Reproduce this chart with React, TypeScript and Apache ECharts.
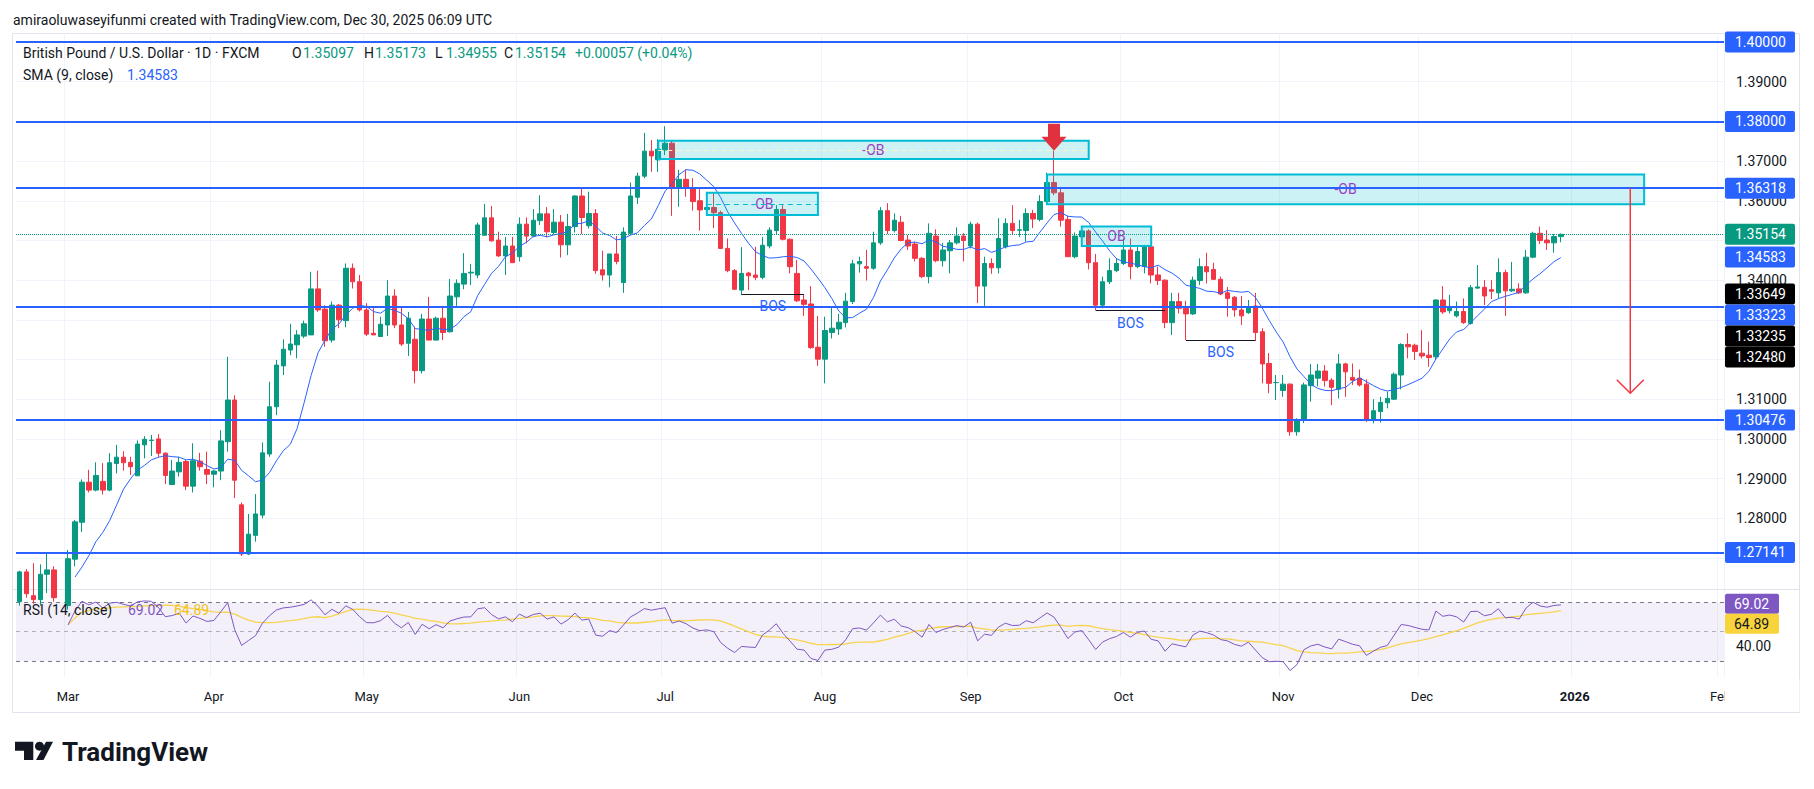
import React, { useEffect, useRef } from "react";
import * as echarts from "echarts";

const FONT = 'Roboto, "Liberation Sans", Arial, sans-serif';

// Daily bars, each row: [open, high, low, close]
const febBars = [
  [1.2590, 1.2668, 1.2580, 1.2665], [1.2665, 1.2672, 1.2600, 1.2610], [1.2605, 1.2687, 1.2585, 1.2595],
  [1.2595, 1.2684, 1.2580, 1.2659], [1.2659, 1.2712, 1.2612, 1.2670], [1.2670, 1.2679, 1.2590, 1.2600],
  [1.2600, 1.2615, 1.2560, 1.2580],
];
const marBars = [
  [1.2580, 1.2720, 1.2570, 1.2698], [1.2697, 1.2796, 1.2679, 1.2791], [1.2790, 1.2898, 1.2766, 1.2891],
  [1.2891, 1.2922, 1.2865, 1.2871], [1.2871, 1.2941, 1.2868, 1.2908], [1.2893, 1.2939, 1.2860, 1.2871],
  [1.2871, 1.2964, 1.2868, 1.2940], [1.2938, 1.2985, 1.2913, 1.2954], [1.2954, 1.2969, 1.2920, 1.2940],
  [1.2941, 1.2955, 1.2909, 1.2930], [1.2907, 1.2996, 1.2907, 1.2987], [1.2985, 1.3007, 1.2951, 1.2999],
  [1.2996, 1.3010, 1.2957, 1.2997], [1.3000, 1.3012, 1.2954, 1.2964], [1.2964, 1.2966, 1.2886, 1.2908],
  [1.2885, 1.2947, 1.2885, 1.2919], [1.2917, 1.2955, 1.2905, 1.2941], [1.2943, 1.2947, 1.2871, 1.2881],
  [1.2881, 1.2989, 1.2865, 1.2945], [1.2944, 1.2965, 1.2920, 1.2930], [1.2923, 1.2968, 1.2886, 1.2911],
];
const aprBars = [
  [1.2911, 1.2922, 1.2878, 1.2919], [1.2919, 1.3022, 1.2896, 1.2995], [1.2993, 1.3207, 1.2968, 1.3098],
  [1.3098, 1.3110, 1.2851, 1.2896], [1.2834, 1.2840, 1.2705, 1.2710], [1.2710, 1.2811, 1.2707, 1.2760],
  [1.2757, 1.2861, 1.2741, 1.2811], [1.2808, 1.2991, 1.2800, 1.2965], [1.2962, 1.3144, 1.2955, 1.3081],
  [1.3081, 1.3199, 1.3060, 1.3186], [1.3184, 1.3251, 1.3161, 1.3226], [1.3224, 1.3290, 1.3211, 1.3239],
  [1.3237, 1.3274, 1.3203, 1.3262], [1.3259, 1.3298, 1.3254, 1.3290], [1.3262, 1.3421, 1.3262, 1.3378],
  [1.3378, 1.3424, 1.3320, 1.3325], [1.3327, 1.3337, 1.3232, 1.3247], [1.3249, 1.3346, 1.3243, 1.3337],
  [1.3337, 1.3340, 1.3279, 1.3300], [1.3298, 1.3442, 1.3281, 1.3430], [1.3430, 1.3442, 1.3379, 1.3396],
  [1.3396, 1.3413, 1.3321, 1.3325],
];
const mayBars = [
  [1.3325, 1.3342, 1.3259, 1.3264], [1.3266, 1.3333, 1.3262, 1.3262], [1.3258, 1.3308, 1.3258, 1.3289],
  [1.3287, 1.3400, 1.3259, 1.3360], [1.3360, 1.3377, 1.3279, 1.3287], [1.3287, 1.3333, 1.3234, 1.3239],
  [1.3241, 1.3320, 1.3209, 1.3304], [1.3251, 1.3283, 1.3140, 1.3172], [1.3172, 1.3315, 1.3165, 1.3302],
  [1.3302, 1.3358, 1.3249, 1.3249], [1.3249, 1.3308, 1.3248, 1.3304], [1.3304, 1.3332, 1.3249, 1.3268],
  [1.3270, 1.3403, 1.3268, 1.3360], [1.3358, 1.3402, 1.3335, 1.3392], [1.3390, 1.3468, 1.3377, 1.3417],
  [1.3418, 1.3441, 1.3388, 1.3420], [1.3413, 1.3545, 1.3405, 1.3539], [1.3513, 1.3592, 1.3513, 1.3557],
  [1.3557, 1.3587, 1.3497, 1.3499], [1.3501, 1.3522, 1.3459, 1.3461], [1.3461, 1.3509, 1.3413, 1.3486],
  [1.3486, 1.3509, 1.3444, 1.3444],
];
const junBars = [
  [1.3459, 1.3558, 1.3447, 1.3541], [1.3541, 1.3558, 1.3493, 1.3511], [1.3511, 1.3579, 1.3508, 1.3551],
  [1.3550, 1.3614, 1.3539, 1.3567], [1.3567, 1.3584, 1.3508, 1.3522], [1.3520, 1.3579, 1.3515, 1.3546],
  [1.3546, 1.3564, 1.3457, 1.3489], [1.3489, 1.3567, 1.3463, 1.3535], [1.3535, 1.3614, 1.3520, 1.3612],
  [1.3612, 1.3630, 1.3516, 1.3558], [1.3537, 1.3623, 1.3530, 1.3568], [1.3568, 1.3579, 1.3416, 1.3424],
  [1.3426, 1.3474, 1.3399, 1.3413], [1.3413, 1.3466, 1.3382, 1.3466], [1.3466, 1.3511, 1.3440, 1.3447],
  [1.3394, 1.3533, 1.3368, 1.3521], [1.3518, 1.3646, 1.3515, 1.3612], [1.3609, 1.3671, 1.3592, 1.3662],
  [1.3662, 1.3771, 1.3657, 1.3725], [1.3725, 1.3753, 1.3673, 1.3713], [1.3703, 1.3755, 1.3673, 1.3730],
];
const julBars = [
  [1.3728, 1.3788, 1.3715, 1.3745], [1.3745, 1.3753, 1.3562, 1.3631], [1.3631, 1.3678, 1.3585, 1.3654],
  [1.3654, 1.3679, 1.3610, 1.3633], [1.3633, 1.3657, 1.3575, 1.3598], [1.3600, 1.3631, 1.3525, 1.3577],
  [1.3578, 1.3592, 1.3572, 1.3583], [1.3583, 1.3619, 1.3531, 1.3570], [1.3570, 1.3575, 1.3478, 1.3480],
  [1.3480, 1.3505, 1.3420, 1.3424], [1.3424, 1.3428, 1.3375, 1.3377], [1.3375, 1.3483, 1.3363, 1.3417],
  [1.3418, 1.3421, 1.3375, 1.3411], [1.3413, 1.3484, 1.3400, 1.3407], [1.3407, 1.3509, 1.3402, 1.3488],
  [1.3486, 1.3533, 1.3480, 1.3526], [1.3525, 1.3589, 1.3514, 1.3578], [1.3578, 1.3589, 1.3500, 1.3503],
  [1.3503, 1.3505, 1.3417, 1.3434], [1.3417, 1.3451, 1.3345, 1.3348], [1.3350, 1.3365, 1.3310, 1.3339],
  [1.3340, 1.3385, 1.3227, 1.3230], [1.3231, 1.3310, 1.3184, 1.3201],
];
const augBars = [
  [1.3201, 1.3308, 1.3140, 1.3273], [1.3268, 1.3332, 1.3253, 1.3279], [1.3277, 1.3315, 1.3262, 1.3294],
  [1.3293, 1.3368, 1.3281, 1.3347], [1.3346, 1.3451, 1.3340, 1.3441], [1.3441, 1.3459, 1.3419, 1.3447],
  [1.3434, 1.3476, 1.3399, 1.3430], [1.3430, 1.3522, 1.3426, 1.3494], [1.3494, 1.3584, 1.3489, 1.3575],
  [1.3575, 1.3594, 1.3516, 1.3525], [1.3525, 1.3568, 1.3520, 1.3551], [1.3546, 1.3562, 1.3498, 1.3500],
  [1.3501, 1.3514, 1.3476, 1.3486], [1.3491, 1.3497, 1.3447, 1.3455], [1.3455, 1.3458, 1.3405, 1.3409],
  [1.3409, 1.3543, 1.3392, 1.3518], [1.3511, 1.3528, 1.3445, 1.3449], [1.3449, 1.3494, 1.3434, 1.3476],
  [1.3474, 1.3501, 1.3417, 1.3494], [1.3494, 1.3533, 1.3490, 1.3511], [1.3511, 1.3518, 1.3447, 1.3500],
];
const sepBars = [
  [1.3486, 1.3547, 1.3480, 1.3541], [1.3541, 1.3545, 1.3342, 1.3385], [1.3385, 1.3459, 1.3335, 1.3442],
  [1.3442, 1.3455, 1.3416, 1.3431], [1.3431, 1.3556, 1.3417, 1.3505], [1.3484, 1.3556, 1.3480, 1.3543],
  [1.3543, 1.3589, 1.3516, 1.3525], [1.3526, 1.3552, 1.3509, 1.3527], [1.3525, 1.3581, 1.3497, 1.3568],
  [1.3568, 1.3577, 1.3531, 1.3554], [1.3553, 1.3614, 1.3548, 1.3598], [1.3598, 1.3671, 1.3595, 1.3646],
  [1.3646, 1.3726, 1.3614, 1.3620], [1.3620, 1.3635, 1.3535, 1.3551], [1.3553, 1.3562, 1.3459, 1.3459],
  [1.3459, 1.3520, 1.3455, 1.3511], [1.3509, 1.3535, 1.3486, 1.3524], [1.3524, 1.3528, 1.3427, 1.3444],
  [1.3444, 1.3466, 1.3325, 1.3337], [1.3337, 1.3409, 1.3329, 1.3396], [1.3396, 1.3455, 1.3390, 1.3424],
  [1.3424, 1.3455, 1.3420, 1.3442],
];
const octBars = [
  [1.3442, 1.3505, 1.3438, 1.3476], [1.3476, 1.3505, 1.3402, 1.3434], [1.3434, 1.3484, 1.3430, 1.3472],
  [1.3434, 1.3489, 1.3417, 1.3484], [1.3484, 1.3486, 1.3392, 1.3413], [1.3413, 1.3434, 1.3388, 1.3399],
  [1.3400, 1.3402, 1.3279, 1.3293], [1.3293, 1.3368, 1.3262, 1.3346], [1.3346, 1.3368, 1.3316, 1.3329],
  [1.3329, 1.3348, 1.3249, 1.3315], [1.3315, 1.3409, 1.3312, 1.3400], [1.3399, 1.3455, 1.3388, 1.3434],
  [1.3434, 1.3469, 1.3392, 1.3421], [1.3427, 1.3444, 1.3400, 1.3402], [1.3402, 1.3409, 1.3362, 1.3365],
  [1.3368, 1.3383, 1.3308, 1.3354], [1.3357, 1.3360, 1.3308, 1.3325], [1.3325, 1.3360, 1.3287, 1.3310],
  [1.3318, 1.3350, 1.3315, 1.3333], [1.3335, 1.3368, 1.3247, 1.3268], [1.3270, 1.3279, 1.3140, 1.3189],
  [1.3190, 1.3216, 1.3115, 1.3140], [1.3142, 1.3161, 1.3098, 1.3142],
];
const novBars = [
  [1.3122, 1.3161, 1.3106, 1.3138], [1.3138, 1.3140, 1.3008, 1.3018], [1.3018, 1.3052, 1.3008, 1.3049],
  [1.3048, 1.3142, 1.3040, 1.3136], [1.3134, 1.3189, 1.3094, 1.3161], [1.3153, 1.3189, 1.3132, 1.3171],
  [1.3171, 1.3186, 1.3132, 1.3147], [1.3148, 1.3153, 1.3085, 1.3130], [1.3125, 1.3214, 1.3102, 1.3189],
  [1.3189, 1.3192, 1.3106, 1.3169], [1.3155, 1.3190, 1.3136, 1.3148], [1.3153, 1.3175, 1.3132, 1.3136],
  [1.3138, 1.3150, 1.3043, 1.3048], [1.3048, 1.3100, 1.3039, 1.3071], [1.3069, 1.3106, 1.3041, 1.3092],
  [1.3091, 1.3119, 1.3077, 1.3102], [1.3100, 1.3167, 1.3098, 1.3163], [1.3161, 1.3241, 1.3125, 1.3238],
  [1.3238, 1.3266, 1.3203, 1.3232], [1.3236, 1.3240, 1.3199, 1.3220],
];
const decBars = [
  [1.3216, 1.3274, 1.3203, 1.3209], [1.3211, 1.3245, 1.3182, 1.3205], [1.3207, 1.3352, 1.3199, 1.3350],
  [1.3350, 1.3385, 1.3315, 1.3320], [1.3323, 1.3363, 1.3316, 1.3331], [1.3310, 1.3346, 1.3306, 1.3321],
  [1.3321, 1.3354, 1.3290, 1.3293], [1.3291, 1.3388, 1.3288, 1.3381], [1.3380, 1.3438, 1.3378, 1.3383],
  [1.3382, 1.3400, 1.3337, 1.3360], [1.3376, 1.3400, 1.3352, 1.3372], [1.3368, 1.3455, 1.3354, 1.3419],
  [1.3419, 1.3426, 1.3310, 1.3373], [1.3373, 1.3446, 1.3370, 1.3377], [1.3378, 1.3392, 1.3365, 1.3368],
  [1.3368, 1.3476, 1.3365, 1.3458], [1.3458, 1.3522, 1.3455, 1.3518], [1.3518, 1.3535, 1.3491, 1.3500],
  [1.3501, 1.3526, 1.3476, 1.3494], [1.3494, 1.3516, 1.3469, 1.35097], [1.35097, 1.35173, 1.34955, 1.35154],
];

const priceTicks = [1.27, 1.28, 1.29, 1.30, 1.31, 1.32, 1.33, 1.34, 1.35, 1.36, 1.37, 1.38, 1.39, 1.40];
const levelLines = [1.40, 1.38, 1.36318, 1.33323, 1.30476, 1.27141];
const lastPrice = 1.35154;
const smaLast = 1.34583;
const rsiLast = 69.02;
const rsiMaLast = 64.89;
const lastOHLC = ["1.35097", "1.35173", "1.34955", "1.35154"];
const lastChange = "+0.00057 (+0.04%)";

// Order blocks: start date, end date, top, bottom, label
const orderBlocks = [
  { from: "2025-06-30", to: "2025-09-24", top: 1.3751, bottom: 1.3705, text: "-OB", mid: "#fff1c2" },
  { from: "2025-07-09", to: "2025-07-31", top: 1.3620, bottom: 1.3564, text: "-OB", mid: "#00bcd4" },
  { from: "2025-09-16", to: "2026-01-16", top: 1.3666, bottom: 1.3591, text: "-OB", mid: "" },
  { from: "2025-09-23", to: "2025-10-07", top: 1.3535, bottom: 1.3486, text: "OB", mid: "" },
];
// Break of structure segments
const bosLines = [
  { from: "2025-07-16", to: "2025-07-29", price: 1.33649 },
  { from: "2025-09-25", to: "2025-10-09", price: 1.33235 },
  { from: "2025-10-14", to: "2025-10-28", price: 1.3248 },
];
const arrowMarker = { date: "2025-09-17", price: 1.3726 };
const projection = { date: "2026-01-14", from: 1.36318, to: 1.3115 };

const monthNames = ["Jan", "Feb", "Mar", "Apr", "May", "Jun", "Jul", "Aug", "Sep", "Oct", "Nov", "Dec"];

function buildDates(): string[] {
  const out: string[] = [];
  const d = new Date(Date.UTC(2025, 1, 20));
  const end = Date.UTC(2026, 1, 2);
  const skip = new Set(["2025-12-25", "2026-01-01"]);
  while (d.getTime() <= end) {
    const wd = d.getUTCDay();
    const s = d.toISOString().slice(0, 10);
    if (wd !== 0 && wd !== 6 && !skip.has(s)) out.push(s);
    d.setUTCDate(d.getUTCDate() + 1);
  }
  return out;
}

export default function App() {
  const ref = useRef<HTMLDivElement>(null);

  useEffect(() => {
    if (!ref.current) return;
    const chart = echarts.init(ref.current, undefined, { renderer: "svg" });

    const dates = buildDates();
    const bars = [...febBars, ...marBars, ...aprBars, ...mayBars, ...junBars, ...julBars, ...augBars, ...sepBars, ...octBars, ...novBars, ...decBars];
    const candles = bars.map(([o, h, l, c]) => [o, c, l, h]);
    const closes = bars.map((b) => b[3]);

    const sma = closes.map((_, i) => {
      if (i < 8) return null;
      let s = 0;
      for (let k = i - 8; k <= i; k++) s += closes[k];
      return +(s / 9).toFixed(5);
    });

    // RSI(14), Wilder smoothing; shown once enough changes are available
    const rsiFull: (number | null)[] = [null];
    let ag = 0, al = 0;
    for (let i = 1; i < closes.length; i++) {
      const ch = closes[i] - closes[i - 1];
      const g = Math.max(ch, 0), l = Math.max(-ch, 0);
      if (i <= 14) { ag = (ag * (i - 1) + g) / i; al = (al * (i - 1) + l) / i; }
      else { ag = (ag * 13 + g) / 14; al = (al * 13 + l) / 14; }
      rsiFull.push(al === 0 ? 100 : +(100 - 100 / (1 + ag / al)).toFixed(2));
    }
    const rsi = rsiFull.map((v, i) => (i < 7 ? null : v));
    const rsiMa = rsi.map((_, i) => {
      const vals: number[] = [];
      for (let k = Math.max(0, i - 13); k <= i; k++) if (rsi[k] != null) vals.push(rsi[k] as number);
      return vals.length ? +(vals.reduce((a, b) => a + b, 0) / vals.length).toFixed(2) : null;
    });

    const monthStart = new Set<number>();
    dates.forEach((d, i) => { if (i > 0 && d.slice(5, 7) !== dates[i - 1].slice(5, 7)) monthStart.add(i); });
    const isMonth = (i: number) => monthStart.has(i);
    const idx = (d: string) => dates.indexOf(d);

    const xBase = {
      type: "category" as const,
      data: dates,
      boundaryGap: true,
      axisLine: { show: false },
      axisTick: { show: false },
      splitLine: { show: true, interval: (i: number) => isMonth(i), lineStyle: { color: "#f0f3fa", width: 1 } },
    };

    const option: any = {
      animation: false,
      backgroundColor: "#ffffff",
      textStyle: { fontFamily: FONT },
      grid: [
        { left: 16, top: 33, width: 1708, height: 556 },
        { left: 16, top: 589, width: 1708, height: 88 },
      ],
      xAxis: [
        { ...xBase, gridIndex: 0, axisLabel: { show: false } },
        {
          ...xBase, gridIndex: 1,
          axisLabel: {
            show: true, interval: (i: number) => isMonth(i), margin: 13, color: "#131722", fontSize: 13, fontFamily: FONT,
            formatter: (v: string) => {
              const m = +v.slice(5, 7);
              return m === 1 ? "{b|" + v.slice(0, 4) + "}" : monthNames[m - 1];
            },
            rich: { b: { fontWeight: "bold", fontSize: 13, color: "#131722", fontFamily: FONT } },
          },
        },
      ],
      yAxis: [
        { type: "value", gridIndex: 0, min: 1.262186, max: 1.402267, axisLine: { show: false }, axisTick: { show: false }, axisLabel: { show: false }, splitLine: { show: false } },
        { type: "value", gridIndex: 1, min: 19.3, max: 79.0, axisLine: { show: false }, axisTick: { show: false }, axisLabel: { show: false }, splitLine: { show: false } },
      ],
      series: [
        {
          type: "line", xAxisIndex: 0, yAxisIndex: 0, data: [], silent: true,
          markLine: { z: 0, precision: 6, silent: true, symbol: ["none", "none"], label: { show: false }, lineStyle: { color: "#f0f3fa", width: 1, type: "solid" }, data: priceTicks.map((v) => ({ yAxis: v })) },
        },
        {
          type: "line", xAxisIndex: 1, yAxisIndex: 1, data: [], silent: true,
          markLine: { z: 0, precision: 6, silent: true, symbol: ["none", "none"], label: { show: false }, lineStyle: { color: "#f0f3fa", width: 1, type: "solid" }, data: [{ yAxis: 40 }] },
        },
        {
          name: "GBPUSD", type: "candlestick", xAxisIndex: 0, yAxisIndex: 0, data: candles, barWidth: 5, clip: true,
          itemStyle: { color: "#089981", color0: "#f23645", borderColor: "#089981", borderColor0: "#f23645", borderWidth: 1 },
          markArea: {
            z: 4, silent: true, precision: 6,
            data: orderBlocks.map((b) => [
              {
                coord: [idx(b.from), b.top],
                itemStyle: { color: "rgba(0,188,212,0.2)", borderColor: "#00bcd4", borderWidth: 2 },
                label: { show: true, position: "inside", formatter: b.text, color: "#9c3fc0", fontSize: 14, fontFamily: FONT },
              },
              { coord: [idx(b.to), b.bottom] },
            ]),
          },
          markLine: {
            z: 5, silent: true, precision: 6, symbol: ["none", "none"], label: { show: false },
            data: [
              ...levelLines.map((v) => ({ yAxis: v, lineStyle: { color: "#2962ff", width: 2, type: "solid" } })),
              { yAxis: lastPrice, lineStyle: { color: "#089981", width: 1, type: "dotted" } },
              ...orderBlocks.filter((b) => b.mid).map((b) => [
                { coord: [idx(b.from), (b.top + b.bottom) / 2], lineStyle: { color: b.mid, width: 1, type: [5, 4] } },
                { coord: [idx(b.to), (b.top + b.bottom) / 2] },
              ]),
              ...bosLines.map((b) => [
                {
                  coord: [idx(b.from), b.price], lineStyle: { color: "#131722", width: 1, type: "solid" },
                  label: { show: true, formatter: "BOS", position: "insideMiddleBottom", distance: 5, color: "#2962ff", fontSize: 14, fontFamily: FONT },
                },
                { coord: [idx(b.to), b.price] },
              ]),
            ],
          },
          markPoint: {
            z: 6, silent: true,
            data: [{
              coord: [idx(arrowMarker.date), arrowMarker.price],
              symbol: "path://M6.5,0L18.5,0L18.5,13L25,13L12.5,27L0,13L6.5,13Z",
              symbolSize: [25, 27], symbolOffset: [0, "-50%"],
              itemStyle: { color: "#e0313f" }, label: { show: false },
            }],
          },
        },
        {
          name: "SMA", type: "line", xAxisIndex: 0, yAxisIndex: 0, data: sma, showSymbol: false, silent: true, z: 3,
          lineStyle: { color: "#2962ff", width: 1 }, itemStyle: { color: "#2962ff" },
        },
        {
          name: "RSI", type: "line", xAxisIndex: 1, yAxisIndex: 1, data: rsi, showSymbol: false, silent: true, z: 3,
          lineStyle: { color: "#7e57c2", width: 1 }, itemStyle: { color: "#7e57c2" },
          markArea: { z: 0, silent: true, itemStyle: { color: "rgba(126,87,194,0.09)" }, data: [[{ yAxis: 70 }, { yAxis: 30 }]] },
          markLine: {
            z: 1, silent: true, precision: 6, symbol: ["none", "none"], label: { show: false },
            lineStyle: { color: "#787b86", width: 1, type: [4, 4] },
            data: [{ yAxis: 70 }, { yAxis: 50, lineStyle: { color: "rgba(120,123,134,0.55)", width: 1, type: [4, 4] } }, { yAxis: 30 }],
          },
        },
        {
          name: "RSI MA", type: "line", xAxisIndex: 1, yAxisIndex: 1, data: rsiMa, showSymbol: false, silent: true, z: 2,
          lineStyle: { color: "#f7d44f", width: 1.3 }, itemStyle: { color: "#f7d44f" },
        },
      ],
    };

    chart.setOption(option);

    const yMain = (v: number) => chart.convertToPixel({ yAxisIndex: 0 } as any, v) as unknown as number;
    const yRsi = (v: number) => chart.convertToPixel({ yAxisIndex: 1 } as any, v) as unknown as number;
    const pt = (d: string, v: number) => chart.convertToPixel({ gridIndex: 0 } as any, [idx(d), v]) as unknown as number[];

    const g: any[] = [];
    const txt = (x: number, y: number, text: string, fill: string, size = 14, extra: any = {}) => ({
      type: "text", silent: true, z: extra.z ?? 30,
      style: { x, y, text, fill, fontSize: size, fontFamily: FONT, align: extra.align ?? "left", verticalAlign: "middle", fontWeight: extra.fontWeight ?? "normal" },
    });

    // frame & separators
    g.push({ type: "rect", silent: true, z: -1, shape: { x: 12.5, y: 33.5, width: 1787, height: 679 }, style: { fill: "none", stroke: "#e0e3eb", lineWidth: 1 } });
    g.push({ type: "line", silent: true, z: 1, shape: { x1: 12.5, y1: 589.5, x2: 1800, y2: 589.5 }, style: { stroke: "#e0e3eb", lineWidth: 1 } });
    // clip the future month label at the price scale
    g.push({ type: "rect", silent: true, z: 50, shape: { x: 1724.5, y: 679, width: 75, height: 33 }, style: { fill: "#ffffff" } });

    // header texts
    g.push(txt(13, 20, "amiraoluwaseyifunmi created with TradingView.com, Dec 30, 2025 06:09 UTC", "#131722", 14));
    g.push(txt(23, 53, "British Pound / U.S. Dollar · 1D · FXCM", "#131722", 14));
    const ohlcX = [292, 364, 435, 504];
    ["O", "H", "L", "C"].forEach((k, i) => {
      g.push(txt(ohlcX[i], 53, k, "#131722", 14));
      g.push(txt(ohlcX[i] + 11, 53, lastOHLC[i], "#089981", 14));
    });
    g.push(txt(575, 53, lastChange, "#089981", 14));
    g.push(txt(23, 75, "SMA (9, close)", "#131722", 14));
    g.push(txt(127, 75, smaLast.toFixed(5), "#2962ff", 14));
    g.push(txt(23, 610, "RSI (14, close)", "#131722", 14));
    g.push(txt(128, 610, rsiLast.toFixed(2), "#7e57c2", 14));
    g.push(txt(174, 610, rsiMaLast.toFixed(2), "#f2c21b", 14));

    // price scale labels with stacking
    const stack = (items: any[], h: number) => {
      const s = [...items].sort((a, b) => a.y - b.y);
      let prev = -Infinity;
      s.forEach((it) => { it.y = Math.max(it.y, prev + h); prev = it.y; });
      return s;
    };
    const mainLabels = stack([
      ...levelLines.map((v) => ({ v, bg: "#2962ff", fg: "#ffffff" })),
      { v: lastPrice, bg: "#089981", fg: "#ffffff" },
      { v: smaLast, bg: "#2962ff", fg: "#ffffff" },
      ...bosLines.map((b) => ({ v: b.price, bg: "#000000", fg: "#ffffff" })),
    ].map((l) => ({ ...l, y: yMain(l.v), text: l.v.toFixed(5) })), 21);

    // price scale ticks (those fully hidden behind a label box are skipped)
    priceTicks.forEach((v) => {
      const y = yMain(v);
      if (mainLabels.some((l) => Math.abs(l.y - y) < 10.5)) return;
      g.push(txt(1736, y, v.toFixed(5), "#131722", 14, { z: 10 }));
    });
    g.push(txt(1736, yRsi(40), "40.00", "#131722", 14, { z: 10 }));

    mainLabels.forEach((l) => {
      g.push({ type: "rect", silent: true, z: 20, shape: { x: 1725, y: l.y - 10.5, width: 70, height: 21, r: 2 }, style: { fill: l.bg } });
      g.push(txt(1735, l.y, l.text, l.fg, 14, { z: 21 }));
    });
    const rsiLabels = [
      { v: rsiLast, bg: "#7e57c2", fg: "#ffffff" },
      { v: rsiMaLast, bg: "#f9d33c", fg: "#131722" },
    ].map((l) => ({ ...l, y: yRsi(l.v), text: l.v.toFixed(2) }));
    stack(rsiLabels, 20).forEach((l) => {
      g.push({ type: "rect", silent: true, z: 20, shape: { x: 1725, y: l.y - 10, width: 54, height: 20, r: 2 }, style: { fill: l.bg } });
      g.push(txt(1734, l.y, l.text, l.fg, 14, { z: 21 }));
    });

    // projection arrow
    const p1 = pt(projection.date, projection.from);
    const p2 = pt(projection.date, projection.to);
    g.push({ type: "line", silent: true, z: 15, shape: { x1: p1[0], y1: p1[1], x2: p2[0], y2: p2[1] }, style: { stroke: "#f23645", lineWidth: 1.5 } });
    g.push({ type: "polyline", silent: true, z: 15, shape: { points: [[p2[0] - 13.5, p2[1] - 13.5], [p2[0], p2[1]], [p2[0] + 13.5, p2[1] - 13.5]] }, style: { stroke: "#f23645", lineWidth: 1.5, fill: "none" } });

    // TradingView logo
    g.push({ type: "polygon", silent: true, z: 30, shape: { points: [[15, 741.7], [33.3, 741.7], [33.3, 760], [24, 760], [24, 750.7], [15, 750.7]] }, style: { fill: "#131722" } });
    g.push({ type: "circle", silent: true, z: 30, shape: { cx: 39.5, cy: 746.2, r: 4.5 }, style: { fill: "#131722" } });
    g.push({ type: "polygon", silent: true, z: 30, shape: { points: [[46, 741.7], [53, 741.7], [43.5, 760], [36, 760]] }, style: { fill: "#131722" } });
    g.push(txt(62, 752, "TradingView", "#131722", 26, { fontWeight: "bold" }));

    chart.setOption({ graphic: g });

    return () => chart.dispose();
  }, []);

  return <div ref={ref} style={{ position: "fixed", left: 0, top: 0, width: 1814, height: 789, background: "#fff" }} />;
}
